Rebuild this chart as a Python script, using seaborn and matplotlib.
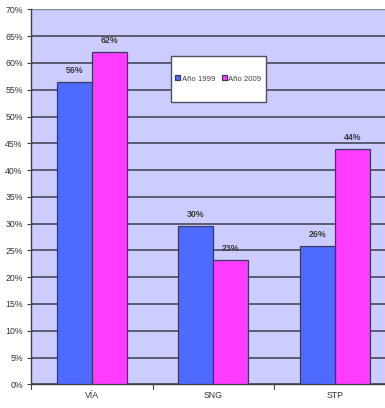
import matplotlib
matplotlib.use("Agg")
import matplotlib.pyplot as plt
from matplotlib.patches import Rectangle
from matplotlib.ticker import MultipleLocator, PercentFormatter
import pandas as pd
import seaborn as sns

# Datos (%)
categorias = ["VÍA", "SNG", "STP"]
anio_1999 = [56.4, 29.6, 25.9]
anio_2009 = [62.0, 23.2, 44.0]
series = ["Año 1999", "Año 2009"]
etiquetas_1999 = ["56%", "30%", "26%"]
etiquetas_2009 = ["62%", "23%", "44%"]

COLORES = ["#4F6BFF", "#FF3CFF"]
FONDO = "#CCCCFF"
BORDE = "#3A3A60"

df = pd.DataFrame({
    "categoria": categorias * 2,
    "valor": anio_1999 + anio_2009,
    "serie": [series[0]] * 3 + [series[1]] * 3,
})

sns.set_style("white")
plt.rcParams["font.family"] = ["Liberation Sans", "DejaVu Sans"]

fig = plt.figure(figsize=(3.85, 4.08), dpi=100)
ax = fig.add_axes([31 / 385, 0.058, 1 - 31 / 385, 0.919])
ax.set_facecolor(FONDO)

sns.barplot(data=df, x="categoria", y="valor", hue="serie", palette=COLORES,
            width=0.58, saturation=1, edgecolor=BORDE, linewidth=0.9,
            legend=True, ax=ax, zorder=3)

ax.set_xlim(-0.5, -0.5 + (385 - 31) / 121.5)
ax.set_ylim(0, 70)
ax.yaxis.set_major_locator(MultipleLocator(5))
ax.yaxis.set_major_formatter(PercentFormatter(decimals=0))
ax.grid(axis="y", color="#3C3C50", linewidth=1.1, zorder=0)
ax.set_axisbelow(True)
ax.set_xlabel("")
ax.set_ylabel("")

for s in ["top", "right"]:
    ax.spines[s].set_visible(False)
ax.spines["left"].set_color("#404040")
ax.spines["bottom"].set_color("#404040")
ax.spines["left"].set_linewidth(1.0)
ax.spines["bottom"].set_linewidth(1.0)
ax.axhline(70, color="#888899", linewidth=1.0, zorder=1)

ax.tick_params(axis="y", which="major", length=3, width=0.8, color="#404040",
               labelsize=6.3, labelcolor="#333333", pad=3, left=True, direction="out")
ax.tick_params(axis="x", length=0, labelsize=6.3, labelcolor="#333333", pad=5)
# marcas entre categorías
for xb in [-0.5, 0.5, 1.5]:
    ax.plot([xb, xb], [0, -0.9], color="#404040", linewidth=0.8,
            clip_on=False, zorder=4)

# etiquetas de valor
for cont, etiquetas in zip(ax.containers, [etiquetas_1999, etiquetas_2009]):
    ax.bar_label(cont, labels=etiquetas, padding=5, fontsize=6.3,
                 color="#3A3A3A", fontweight="bold")

# leyenda en caja blanca
x0, y0, w, h = 0.395, 0.753, 0.268, 0.123
ax.add_patch(Rectangle((x0, y0), w, h, transform=ax.transAxes, facecolor="white",
                       edgecolor="#505060", linewidth=1.0, zorder=5))
handles, labels = ax.get_legend_handles_labels()
leg = ax.legend(handles, labels, loc="center", bbox_to_anchor=(x0 + w / 2, y0 + h / 2),
                ncol=2, frameon=False, fontsize=5.6, handlelength=0.6,
                handleheight=0.6, handletextpad=0.2, columnspacing=0.9)
leg.set_zorder(6)
for t in leg.get_texts():
    t.set_color("#444444")

fig.savefig("out.png", dpi=100)
